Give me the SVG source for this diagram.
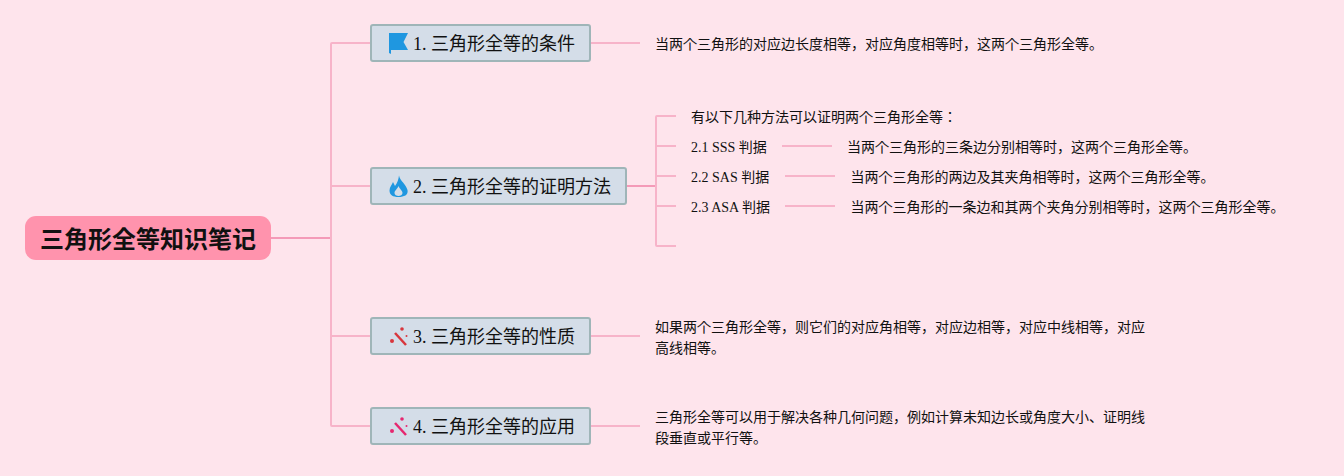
<svg xmlns="http://www.w3.org/2000/svg" width="1344" height="476" viewBox="0 0 1344 476">
<style>
text{font-family:"Liberation Serif","Noto Sans CJK JP",serif;fill:#111}
.t{font-size:18px}
.s{font-size:14px}
.b{fill:#d4dde8;stroke:#9fb5b8;stroke-width:2}
.c{fill:none;stroke:#f7b3c9;stroke-width:2}
.m{fill:none;stroke:#f49ab8;stroke-width:2}
</style>
<rect width="1344" height="476" fill="#fee4ec"/>
<g id="connectors">
<path class="m" d="M271 238H331"/>
<path class="c" d="M371 43H332Q331 43 331 44V425Q331 426 332 426H371M331 186H371M331 336H371"/>
<path class="c" d="M591 43H640M591 336H640M591 426H640"/>
<path class="m" d="M627 186H656"/>
<path class="c" d="M676 116H657Q656 116 656 117V245Q656 246 657 246H676M656 146H676M656 176H676M656 206H676"/>
<path class="c" d="M782 146H832M785 176H835M785 206H835"/>
</g>
<g id="root"><rect x="25" y="216" width="246" height="44" rx="11" fill="#ff93ad"/><text x="148" y="248" text-anchor="middle" font-size="24" font-weight="700">三角形全等知识笔记</text></g>
<g id="n1"><rect class="b" x="371" y="25" width="219" height="36" rx="2"/>
<path d="M389 33H408L403.500 42L408 50H391V54L389 53Z" fill="#1f97e0"/>
<text class="t" x="413" y="50">1. 三角形全等的条件</text></g>
<g id="n2"><rect class="b" x="371" y="168" width="255" height="36" rx="2"/>
<path fill-rule="evenodd" d="M399 175.500C400 181 406 184 407.500 190C408.500 195 404 197 398.500 197C393 197 389.500 195 389.500 190.500C389.500 187 392 184.500 393 182L395 186C397.500 183 398.500 179 399 175.500ZM398.500 186C397.500 189 394.500 190.500 394.500 193C394.500 195 396.500 196 398.500 196C400.500 196 402.500 195 402.500 193C402.500 190.500 399.500 189 398.500 186Z" fill="#1f97e0"/>
<text class="t" x="413" y="193">2. 三角形全等的证明方法</text></g>
<g id="n3"><rect class="b" x="371" y="318" width="219" height="36" rx="2"/>
<path d="M395 333L406 345" stroke="#d8363c" stroke-width="2.500" fill="none"/><circle cx="402" cy="329" r="1.800" fill="#d8363c"/><circle cx="392" cy="341" r="2" fill="#d8363c"/><circle cx="406.500" cy="336" r="1" fill="#d8363c"/>
<text class="t" x="413" y="343">3. 三角形全等的性质</text></g>
<g id="n4"><rect class="b" x="371" y="408" width="219" height="36" rx="2"/>
<path d="M395 423L406 435" stroke="#e6276f" stroke-width="2.500" fill="none"/><circle cx="402" cy="419" r="1.800" fill="#e6276f"/><circle cx="392" cy="431" r="2" fill="#e6276f"/><circle cx="406.500" cy="426" r="1" fill="#e6276f"/>
<text class="t" x="413" y="433">4. 三角形全等的应用</text></g>
<g id="d1"><text class="s" x="655" y="49">当两个三角形的对应边长度相等，对应角度相等时，这两个三角形全等。</text></g>
<g id="d2"><text class="s" x="691" y="122">有以下几种方法可以证明两个三角形全等：</text></g>
<g id="l21"><text class="s" x="691" y="152">2.1 SSS 判据</text></g>
<g id="d21"><text class="s" x="847" y="152">当两个三角形的三条边分别相等时，这两个三角形全等。</text></g>
<g id="l22"><text class="s" x="691" y="182">2.2 SAS 判据</text></g>
<g id="d22"><text class="s" x="850.500" y="182">当两个三角形的两边及其夹角相等时，这两个三角形全等。</text></g>
<g id="l23"><text class="s" x="691" y="212">2.3 ASA 判据</text></g>
<g id="d23"><text class="s" x="850.500" y="212">当两个三角形的一条边和其两个夹角分别相等时，这两个三角形全等。</text></g>
<g id="d3"><text class="s" x="655" y="332">如果两个三角形全等，则它们的对应角相等，对应边相等，对应中线相等，对应</text><text class="s" x="655" y="353">高线相等。</text></g>
<g id="d4"><text class="s" x="655" y="422">三角形全等可以用于解决各种几何问题，例如计算未知边长或角度大小、证明线</text><text class="s" x="655" y="443">段垂直或平行等。</text></g>
</svg>
